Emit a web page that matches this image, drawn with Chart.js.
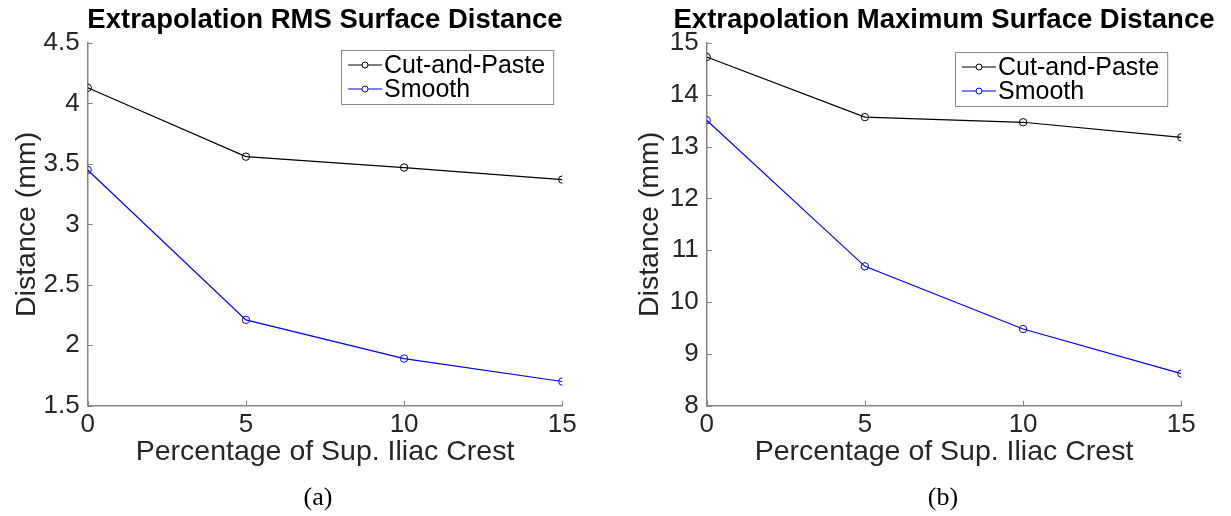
<!DOCTYPE html>
<html>
<head>
<meta charset="utf-8">
<script src="https://cdn.jsdelivr.net/npm/chart.js@4.4.1/dist/chart.umd.min.js"></script>
<style>
html, body { margin: 0; padding: 0; background: #fff; overflow: hidden; }
#wrap { position: relative; width: 1231px; height: 516px; overflow: hidden; }
#wrap canvas { position: absolute; top: 0; }
.cap { position: absolute; top: 482px; font: 26px "Liberation Serif", "Times New Roman", serif; color: #000; transform: translateX(-50%); }
</style>
</head>
<body>
<div id="wrap">
  <canvas id="rmsChart" width="650" height="516" style="left:0"></canvas>
  <canvas id="maxChart" width="650" height="516" style="left:619px"></canvas>
  <div class="cap" style="left:318px">(a)</div>
  <div class="cap" style="left:943px">(b)</div>
</div>
<script>
// valori
const percentuali = [0, 5, 10, 15];
const rmsCutPaste = [4.13, 3.56, 3.47, 3.37];
const rmsSmooth = [3.45, 2.21, 1.89, 1.70];
const maxCutPaste = [14.73, 13.57, 13.47, 13.18];
const maxSmooth = [13.51, 10.69, 9.48, 8.62];
const serieNomi = ['Cut-and-Paste', 'Smooth'];

const FONT = '"Liberation Sans", Arial, Helvetica, sans-serif';
const GRIGIO_ASSE = '#858585';
const COL_TESTO = '#262626';

// tacche verso l'interno, come in MATLAB
const tacchetteInterne = {
    id: 'tacchetteInterne',
    afterDraw(chart) {
        const { ctx, chartArea: a, scales } = chart;
        ctx.save();
        ctx.strokeStyle = GRIGIO_ASSE;
        ctx.lineWidth = 1;
        ctx.beginPath();
        scales.x.ticks.forEach(t => {
            const px = Math.round(scales.x.getPixelForValue(t.value)) + 0.5;
            ctx.moveTo(px, a.bottom);
            ctx.lineTo(px, a.bottom - 5);
        });
        scales.y.ticks.forEach(t => {
            const py = Math.round(scales.y.getPixelForValue(t.value)) + 0.5;
            ctx.moveTo(a.left, py);
            ctx.lineTo(a.left + 5, py);
        });
        ctx.stroke();
        ctx.restore();
    }
};

// legenda in riquadro dentro l'area del grafico
const legendaRiquadro = {
    id: 'legendaRiquadro',
    afterDraw(chart, args, opts) {
        const { ctx, chartArea: a } = chart;
        ctx.save();
        ctx.font = '25px ' + FONT;
        const larghTesto = Math.max(...chart.data.datasets.map(d => ctx.measureText(d.label).width));
        const w = 44 + larghTesto + 7, h = 54;
        const x = Math.round(a.right - opts.destra - w), y = Math.round(a.top + opts.alto);
        ctx.fillStyle = '#fff';
        ctx.fillRect(x, y, w, h);
        ctx.strokeStyle = '#8a8a8a';
        ctx.lineWidth = 1;
        ctx.strokeRect(x + 0.5, y + 0.5, w, h);
        chart.data.datasets.forEach((d, i) => {
            const cy = y + 15 + i * 24;
            ctx.strokeStyle = d.borderColor;
            ctx.beginPath();
            ctx.moveTo(x + 7, cy);
            ctx.lineTo(x + 41, cy);
            ctx.stroke();
            ctx.beginPath();
            ctx.arc(x + 24, cy, 3, 0, Math.PI * 2);
            ctx.fillStyle = '#fff';
            ctx.fill();
            ctx.stroke();
            ctx.fillStyle = '#000';
            ctx.textBaseline = 'middle';
            ctx.fillText(d.label, x + 43, cy + 1);
        });
        ctx.restore();
    }
};

function punti(valori) {
    return percentuali.map((p, i) => ({ x: p, y: valori[i] }));
}

function serie(nome, valori, colore) {
    return {
        label: nome,
        data: punti(valori),
        borderColor: colore,
        backgroundColor: 'rgba(0,0,0,0)',
        borderWidth: 1.2,
        pointRadius: 3.7,
        pointBorderWidth: 1,
        pointBackgroundColor: 'rgba(255,255,255,0)',
        pointBorderColor: colore,
        tension: 0
    };
}

function creaGrafico(idCanvas, titolo, datiCut, datiSmooth, yMin, yMax, yPasso, padTitoloY, legPos) {
    const ctx = document.getElementById(idCanvas).getContext('2d');
    return new Chart(ctx, {
        type: 'line',
        data: {
            datasets: [
                serie(serieNomi[0], datiCut, '#000000'),
                serie(serieNomi[1], datiSmooth, '#0000ff')
            ]
        },
        options: {
            responsive: false,
            animation: false,
            layout: { padding: 0 },
            plugins: {
                legend: { display: false },
                tooltip: { enabled: false },
                title: {
                    display: true,
                    text: titolo,
                    color: '#000',
                    font: { family: FONT, size: 27.5, weight: 'bold' },
                    padding: { top: 4, bottom: 6 }
                },
                legendaRiquadro: legPos
            },
            scales: {
                x: {
                    type: 'linear',
                    min: 0, max: 15,
                    afterFit: s => { s.height = 110.3; },
                    grid: { display: true, drawOnChartArea: false, drawTicks: false },
                    border: { display: true, color: GRIGIO_ASSE, width: 1.5 },
                    ticks: { stepSize: 5, color: COL_TESTO, padding: 4, font: { family: FONT, size: 26 } },
                    title: {
                        display: true,
                        text: 'Percentage of Sup. Iliac Crest',
                        color: COL_TESTO,
                        font: { family: FONT, size: 28.5 },
                        padding: { top: 0, bottom: 47 }
                    }
                },
                y: {
                    min: yMin, max: yMax,
                    afterFit: s => { s.width = 87.7; },
                    grid: { display: true, drawOnChartArea: false, drawTicks: false },
                    border: { display: true, color: GRIGIO_ASSE, width: 1.5 },
                    ticks: {
                        stepSize: yPasso, color: COL_TESTO, padding: 8,
                        font: { family: FONT, size: 26 },
                        callback: v => String(v)
                    },
                    title: {
                        display: true,
                        text: 'Distance (mm)',
                        color: COL_TESTO,
                        font: { family: FONT, size: 28.5 },
                        padding: { top: padTitoloY, bottom: 0 }
                    }
                },
                // asse vuoto a destra: solo margine, così il titolo resta centrato sull'area
                margine: {
                    position: 'right',
                    min: 0, max: 1,
                    afterFit: s => { s.width = 87.7; },
                    grid: { display: false },
                    border: { display: false },
                    ticks: { display: false }
                }
            }
        },
        plugins: [tacchetteInterne, legendaRiquadro]
    });
}

creaGrafico('rmsChart', 'Extrapolation RMS Surface Distance', rmsCutPaste, rmsSmooth, 1.5, 4.5, 0.5, 10, { destra: 9, alto: 7 });
creaGrafico('maxChart', 'Extrapolation Maximum Surface Distance', maxCutPaste, maxSmooth, 8, 15, 1, 14.5, { destra: 14, alto: 9 });
</script>
</body>
</html>
